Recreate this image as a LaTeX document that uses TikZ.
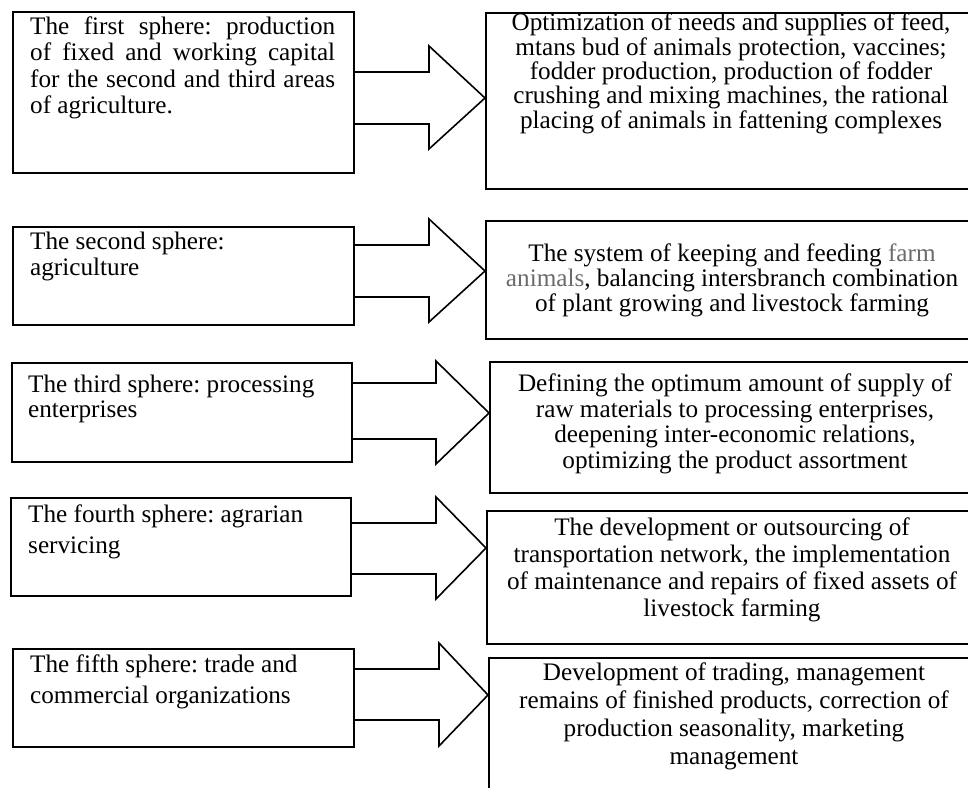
\documentclass[tikz,border=0pt]{standalone}
\usepackage{fontspec}
\setmainfont{Liberation Serif}
\definecolor{gfarm}{gray}{0.42}
\frenchspacing
\newcommand{\myL}[1]{\parbox[t]{320pt}{\raggedright #1}}
\newcommand{\myR}[1]{\parbox[t]{480pt}{\centering #1}}
\newcommand{\jl}[1]{\makebox[305pt][s]{#1}}
\begin{document}
\begin{tikzpicture}[x=1pt,y=-1pt,
  box/.style={draw, line width=1.8pt, rectangle, inner sep=0pt, anchor=north west},
  barrow/.style={draw, line width=1.6pt, line join=miter},
  ltxt/.style={inner sep=0pt, anchor=base west, font=\fontsize{25.2}{#1}\selectfont},
  rtxt/.style={inner sep=0pt, anchor=base, font=\fontsize{25.2}{#1}\selectfont}]
\useasboundingbox (0,0) rectangle (968,787);
\clip (0,0) rectangle (968,787);
\fill[white] (0,0) rectangle (968,787);

% left boxes
\node[box, minimum width=341pt, minimum height=161pt] (L1) at (12,11) {};
\node[box, minimum width=341pt, minimum height=98pt]  (L2) at (12,226) {};
\node[box, minimum width=340pt, minimum height=99pt]  (L3) at (11,362) {};
\node[box, minimum width=340pt, minimum height=98pt]  (L4) at (10,497) {};
\node[box, minimum width=341pt, minimum height=98pt]  (L5) at (12,648) {};

% right boxes (cut by the right edge)
\node[box, minimum width=490pt, minimum height=176pt] (R1) at (485,12) {};
\node[box, minimum width=490pt, minimum height=118pt] (R2) at (485,220) {};
\node[box, minimum width=486pt, minimum height=131pt] (R3) at (489,361) {};
\node[box, minimum width=489pt, minimum height=133pt] (R4) at (486,510) {};
\node[box, minimum width=487pt, minimum height=150pt] (R5) at (488,657) {};

% tips
\coordinate (t1) at (R1.west |- 0,98);
\coordinate (t2) at (R2.west |- 0,271);
\coordinate (t3) at (R3.west |- 0,413);
\coordinate (t4) at (R4.west |- 0,548);
\coordinate (t5) at (R5.west |- 0,695);

% block arrows
\draw[barrow] (L1.east |- 0,72) -- (429,72) -- (429,46) -- (t1) -- (429,149) -- (429,124) -- (L1.east |- 0,124);
\draw[barrow] (L2.east |- 0,245) -- (429,245) -- (429,219) -- (t2) -- (429,322) -- (429,297) -- (L2.east |- 0,297);
\draw[barrow] (L3.east |- 0,383) -- (436,383) -- (436,361) -- (t3) -- (436,464) -- (436,439) -- (L3.east |- 0,439);
\draw[barrow] (L4.east |- 0,523) -- (436,523) -- (436,497) -- (t4) -- (436,599) -- (436,574) -- (L4.east |- 0,574);
\draw[barrow] (L5.east |- 0,669) -- (439,669) -- (439,643) -- (t5) -- (439,746) -- (439,720) -- (L5.east |- 0,720);

% left texts
\node[ltxt=26.3] (l1t) at (30,34.5) {\myL{\jl{The first sphere: production}\\
  \jl{of fixed and working capital}\\
  \jl{for the second and third areas}\\
  of agriculture.}};
\node[ltxt=26] (l2t) at (30,249) {\myL{The second sphere:\\ agriculture}};
\node[ltxt=24.5] (l3t) at (28,392.5) {\myL{The third sphere: processing\\ enterprises}};
\node[ltxt=31.5] (l4t) at (28,522) {\myL{The fourth sphere: agrarian\\ servicing}};
\node[ltxt=31] (l5t) at (30,672) {\myL{The fifth sphere: trade and\\ commercial organizations}};

% right texts
\node[rtxt=24.3] (r1t) at (731,30.8) {\myR{Optimization of needs and supplies of feed,\\
  mtans bud of animals protection, vaccines;\\
  fodder production, production of fodder\\
  crushing and mixing machines, the rational\\
  placing of animals in fattening complexes}};
\node[rtxt=25.3] (r2t) at (732,261) {\myR{The system of keeping and feeding {\color{gfarm}farm}\\
  {\color{gfarm}animals}, balancing intersbranch combination\\
  of plant growing and livestock farming}};
\node[rtxt=25.7] (r3t) at (735,391.5) {\myR{Defining the optimum amount of supply of\\
  raw materials to processing enterprises,\\
  deepening inter-economic relations,\\
  optimizing the product assortment}};
\node[rtxt=27.3] (r4t) at (732,535) {\myR{The development or outsourcing of\\
  transportation network, the implementation\\
  of maintenance and repairs of fixed assets of\\
  livestock farming}};
\node[rtxt=28] (r5t) at (734,680) {\myR{Development of trading, management\\
  remains of finished products, correction of\\
  production seasonality, marketing\\
  management}};
\end{tikzpicture}
\end{document}
